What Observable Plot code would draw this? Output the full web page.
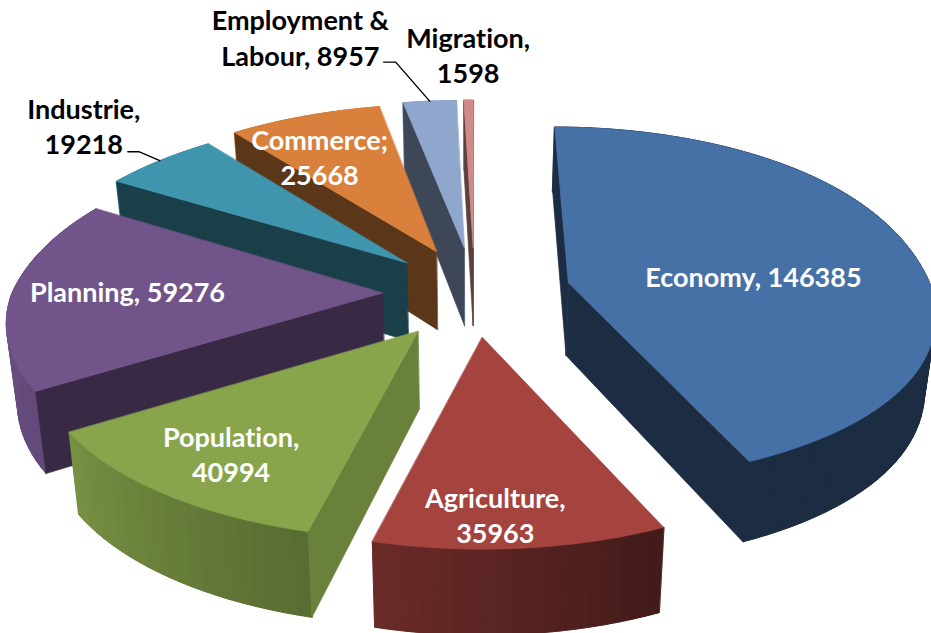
<!DOCTYPE html>
<html>
<head>
<meta charset="utf-8">
<script src="https://cdn.jsdelivr.net/npm/d3@7"></script>
<script src="https://cdn.jsdelivr.net/npm/@observablehq/plot@0.6"></script>
<style>
  html, body { margin: 0; padding: 0; background: #fff; overflow: hidden; }
  svg text { font-variant-ligatures: none; }
</style>
</head>
<body>
<div id="chart"></div>
<script>
// Slices, clockwise from twelve o'clock
const names = ["Economy", "Agriculture", "Population", "Planning", "Industrie", "Commerce", "Employment &\nLabour", "Migration"];
const values = [146385, 35963, 40994, 59276, 19218, 25668, 8957, 1598];
const separators = [", ", ",\n", ",\n", ", ", ",\n", ";\n", ", ", ",\n"];
const colors = ["#4671A7", "#A5433F", "#88A54C", "#70548A", "#3F95AE", "#D9813C", "#8FA6CD", "#CE8B8A"];
const labelInk = ["#fff", "#fff", "#fff", "#fff", "#000", "#fff", "#000", "#000"];
const explosion = [96, 90, 96, 92, 90, 90, 90, 90];
const faceShades = [0.4, 0.4, 0.78, 0.5, 0.42, 0.42, 0.43, 0.45];
// Per-slice rim corrections: lift along the depth axis, trim at the sides, wall height
const rimLift = [8, -4, 0, 5, 0, 0, 0, 0];
const sideTrim = [0.037, 0, 0, 0.012, 0, 0, 0, 0];
const wallDrop = [73, 78, 78, 78, 78, 78, 78, 78];
// Label centres relative to each slice's tip
const labelDx = [185, 13, -187, -255, -323, -117, -164, -5];
const labelDy = [-7, 177, 122, -2, -138, -95, -211, -193];
// Back-to-front painting order
const paintOrder = [7, 6, 5, 4, 0, 3, 2, 1];

const width = 931, height = 633;
const cx = 474, cy = 292;        // pie centre on the page
const radius = 375;              // rim radius at mid depth
const tilt = 0.46;               // vertical foreshortening of the disc
const depthPull = 0.17;          // perspective strength along the depth axis
const tipTilt = 0.5;             // foreshortening of the explosion offset

const rad = (deg) => deg * Math.PI / 180;
const total = d3.sum(values);

// Wall shade by rim angle: lit from the left, falling into shadow to the right
const wallShade = d3.scaleLinear().domain([156, 194, 238, 280]).range([0.4, 0.65, 0.88, 0.95]).clamp(true);
const shaded = (color, k) => {
  const c = d3.rgb(color);
  return d3.rgb(c.r * k, c.g * k, c.b * k).formatHex();
};

// Cumulative angles derive directly from the values
let running = 0;
const slices = values.map((value, i) => {
  const start = running / total * 360;
  running += value;
  const end = running / total * 360;
  const mid = (start + end) / 2;
  const e = explosion[i];
  const tip = [cx + e * Math.sin(rad(mid)), cy - tipTilt * e * Math.cos(rad(mid))];
  return {i, value, start, end, mid, tip};
});

// Point on a slice's rim at the given angle
function rim(s, angle) {
  const a = rad(angle);
  const depth = Math.cos(a);
  const sine = Math.sin(a);
  const scale = 1 / (1 + depthPull * depth);
  const lean = depth > 0 ? (s.tip[0] - cx) * (scale - 1) : 0;
  const trim = 1 - sideTrim[s.i] * sine ** 4;
  return [
    s.tip[0] + lean + radius * sine * scale * trim,
    s.tip[1] - tilt * radius * depth * scale - rimLift[s.i] * Math.abs(depth)
  ];
}

// The same point pushed down to the underside of the pie
function under(s, p, depth) {
  const drop = wallDrop[s.i] - 8 * depth;
  return [p[0] + (470 - p[0]) * 0.024, p[1] + drop];
}

const signedArea = (pts) => d3.sum(pts, (p, k) => {
  const q = pts[(k + 1) % pts.length];
  return p[0] * q[1] - q[0] * p[1];
});

// Flat list of polygon vertices, one id per polygon, in painting order
const vertices = [];
let nextId = 0;
const addPolygon = (pts, fill) => {
  const id = nextId++;
  for (const [x, y] of pts) vertices.push({x, y, id, fill});
};

for (const i of paintOrder) {
  const s = slices[i];
  const base = colors[i];
  const underTip = under(s, s.tip, 0);
  const side = (angle) => {
    const p = rim(s, angle);
    return [s.tip, p, under(s, p, Math.cos(rad(angle))), underTip];
  };

  // Curved outer wall: one solid backing, then narrow strips whose shade varies along the rim
  const step = Math.min(2, (s.end - s.start) / 2);
  const stops = d3.range(s.start, s.end, step).concat(s.end);
  const upper = stops.map((a) => rim(s, a));
  const lower = stops.map((a, k) => under(s, upper[k], Math.cos(rad(a))));
  addPolygon(upper.concat(lower.slice().reverse()), shaded(base, wallShade(s.mid)));
  stops.slice(1).forEach((b, k) => {
    addPolygon(
      [upper[k], upper[k + 1], lower[k + 1], lower[k]],
      shaded(base, wallShade((stops[k] + b) / 2))
    );
  });

  // Cut faces, kept only where they turn towards the viewer
  const startFace = side(s.start);
  const endFace = side(s.end);
  if (signedArea(startFace) < 0) addPolygon(startFace, shaded(base, faceShades[i]));
  if (signedArea(endFace) > 0) addPolygon(endFace, shaded(base, faceShades[i]));

  // Top face
  const top = [s.tip];
  for (let a = s.start; a < s.end; a += 1) top.push(rim(s, a));
  top.push(rim(s, s.end));
  addPolygon(top, base);
}

// Data labels
const labelRows = slices.map((s) => ({
  text: `${names[s.i]}${separators[s.i]}${s.value}`,
  x: s.tip[0] + labelDx[s.i],
  y: s.tip[1] + labelDy[s.i],
  ink: labelInk[s.i]
}));

// Leader lines run from the rim at mid-angle to a short elbow beside the label
const leaders = [
  {slice: 6, elbowDx: -34, elbowDy: -39, tailDx: -12},
  {slice: 4, elbowDx: -21, elbowDy: -9, tailDx: -11}
].flatMap(({slice, elbowDx, elbowDy, tailDx}) => {
  const end = rim(slices[slice], slices[slice].mid);
  const elbow = [end[0] + elbowDx, end[1] + elbowDy];
  return [end, elbow, [elbow[0] + tailDx, elbow[1]]].map(([x, y]) => ({x, y, slice}));
});

const chart = Plot.plot({
  width,
  height,
  margin: 0,
  x: {domain: [0, width], axis: null},
  y: {domain: [height, 0], axis: null},
  style: {background: "#fff"},
  marks: [
    Plot.line(vertices, {
      x: "x", y: "y", z: "id",
      fill: "fill", stroke: "fill", strokeWidth: 0.7,
      curve: "linear-closed", clip: true
    }),
    Plot.line(leaders, {
      x: "x", y: "y", z: "slice",
      stroke: "#000", strokeWidth: 1.4, curve: "linear"
    }),
    Plot.text(labelRows, {
      x: "x", y: "y", text: "text", fill: "ink",
      fontFamily: "Lato, 'Open Sans', sans-serif",
      fontWeight: 700, fontSize: 27, lineHeight: 1.3, textAnchor: "middle"
    })
  ]
});
document.getElementById("chart").appendChild(chart);
</script>
</body>
</html>
